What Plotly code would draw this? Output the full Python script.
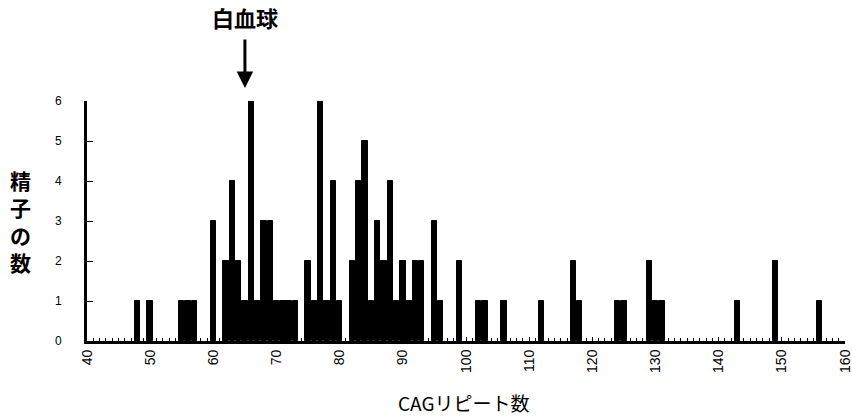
import plotly.graph_objects as go

# CAG repeat length (x) and number of sperm (y)
cag_repeats = [48, 50, 55, 56, 57, 60, 62, 63, 64, 65, 66, 67, 68, 69, 70, 71, 72, 73,
               75, 76, 77, 78, 79, 80, 82, 83, 84, 85, 86, 87, 88, 89, 90, 91, 92, 93,
               95, 96, 99, 102, 103, 106, 112, 117, 118, 124, 125, 129, 130, 131,
               143, 149, 156]
sperm_counts = [1, 1, 1, 1, 1, 3, 2, 4, 2, 1, 6, 1, 3, 3, 1, 1, 1, 1,
                2, 1, 6, 1, 4, 1, 2, 4, 5, 1, 3, 2, 4, 1, 2, 1, 2, 2,
                3, 1, 2, 1, 1, 1, 1, 2, 1, 1, 1, 2, 1, 1,
                1, 2, 1]
leukocyte_cag = 65

x_ticks = list(range(40, 161, 10))
y_ticks = list(range(0, 7))

LAT = "Liberation Sans, Arial, sans-serif"
JP = "Noto Sans CJK JP, sans-serif"

fig = go.Figure()
fig.add_trace(go.Bar(
    x=cag_repeats, y=sperm_counts, width=0.85,
    marker=dict(color="black", line=dict(color="black", width=1)),
    showlegend=False,
))

fig.update_layout(
    width=852, height=418,
    margin=dict(l=87, r=7, t=101, b=77),
    paper_bgcolor="white", plot_bgcolor="white",
    bargap=0,
    xaxis=dict(
        range=[40, 160], tickvals=x_ticks, tickangle=-90,
        automargin=False, ticklabeloverflow="allow",
        ticks="inside", ticklen=4, tickwidth=1, tickcolor="black",
        minor=dict(dtick=1, tick0=40, ticks="inside", ticklen=3, tickwidth=1,
                   tickcolor="black", showgrid=False),
        showline=True, linewidth=3, linecolor="black",
        showgrid=False, zeroline=False,
        tickfont=dict(family=LAT, size=14, color="black"),
    ),
    yaxis=dict(
        range=[0, 6], tickvals=y_ticks,
        automargin=False,
        ticks="inside", ticklen=6, tickwidth=1, tickcolor="black",
        showline=True, linewidth=3, linecolor="black",
        showgrid=False, zeroline=False,
        ticklabelstandoff=20,
        tickfont=dict(family=LAT, size=12, color="black"),
    ),
    annotations=[
        dict(text="<b>白血球</b>", x=leukocyte_cag, xref="x", y=1.348, yref="paper",
             showarrow=False, xanchor="center", yanchor="middle",
             font=dict(family=JP, size=22, color="black")),
        dict(text="", x=leukocyte_cag, xref="x", y=1.054, yref="paper",
             showarrow=True, ax=0, ay=-50, arrowhead=2, arrowsize=1.1,
             arrowwidth=3, arrowcolor="black"),
        dict(text="<b>精<br>子<br>の<br>数</b>", x=0, xref="paper", xshift=-67,
             y=0.5, yref="paper", showarrow=False, xanchor="center", yanchor="middle",
             font=dict(family=JP, size=21, color="black")),
        dict(text="CAGリピート数", x=0.498, xref="paper", y=-0.258, yref="paper",
             showarrow=False, xanchor="center", yanchor="middle",
             font=dict(family=JP, size=19, color="black")),
    ],
)

fig.write_html("out.html", config={"displayModeBar": False},
               post_script="document.body.style.margin='0';document.body.style.overflow='hidden';")
